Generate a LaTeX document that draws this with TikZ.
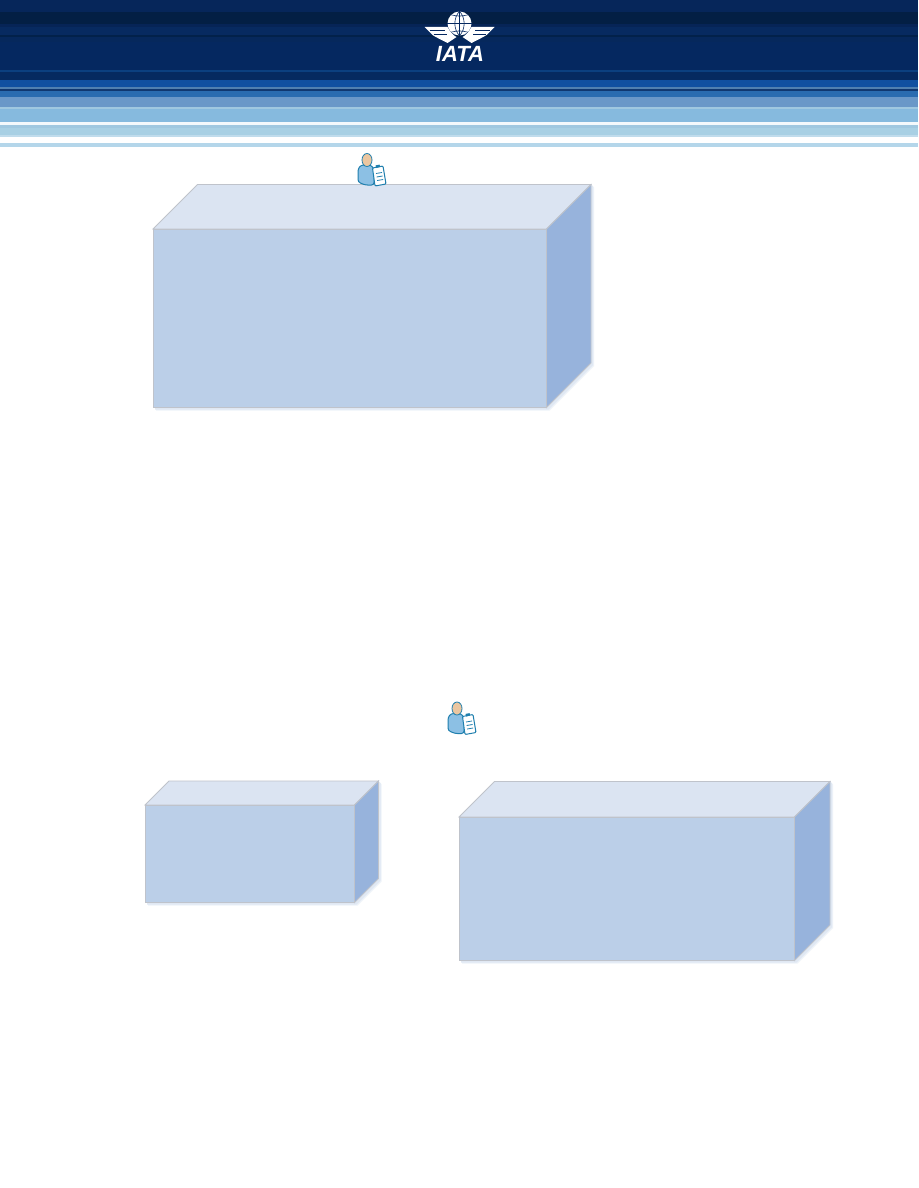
\documentclass[tikz,border=0pt]{standalone}
\usepackage{fontspec}
\setsansfont{Liberation Sans}
\usetikzlibrary{positioning,shapes.geometric}
\definecolor{boxfront}{HTML}{BBCFE8}
\definecolor{boxtop}{HTML}{DBE4F2}
\definecolor{boxside}{HTML}{97B3DC}
\definecolor{boxedge}{HTML}{BFC3CB}
\definecolor{iconline}{HTML}{1F7FAE}
\definecolor{iconbody}{HTML}{8CC0E4}
\definecolor{iconhead}{HTML}{EBC6A0}
\definecolor{logodark}{HTML}{052860}
% one box: x, y of the front corner, width, height, depth
\newcommand{\crate}[6]{%
  \foreach \off/\shade in {3/EEF3F9,2/E0E8F3}{
    \definecolor{shadowc}{HTML}{\shade}
    \fill[shadowc] (#1+\off,#2+#4) -- (#1+\off,#2+#4+\off) -- (#1+#3+\off,#2+#4+\off)
       -- (#1+#3+#5+\off,#2+#4-#5+\off) -- (#1+#3+#5+\off,#2-#5+\off) -- (#1+#3+#5,#2-#5) -- cycle;
  }
  \draw[boxedge,fill=boxtop] (#1,#2) -- ++(#5,-#5) -- ++(#3,0) -- ++(-#5,#5) -- cycle;
  \draw[boxedge,fill=boxside] (#1+#3,#2) -- ++(#5,-#5) -- ++(0,#4) -- ++(-#5,#5) -- cycle;
  \node[cratefront,minimum width=#3*1pt,minimum height=#4*1pt,anchor=north west] (#6) at (#1,#2) {};
}
% one wing: direction (1 left, -1 right)
\newcommand{\wing}[1]{%
  \begin{scope}[shift={(459.5,0)},xscale=#1]
    \fill[white] (-35,27) -- (-12,27) .. controls (-10,31) and (-7,35) .. (-3,37) -- (-12,43)
       .. controls (-18,40) and (-24,37) .. (-27,35) -- cycle;
    \draw[logodark,line width=.9pt] (-30,30.5) -- (-15,30.5) (-26,34) -- (-13,34);
  \end{scope}}
% reader icon
\newcommand{\reader}[3]{%
  \begin{scope}[shift={(#1,#2)}]
    \fill[iconbody,draw=iconline,line width=1pt,rounded corners=2.5pt] (-9,30) -- (-9,17) -- (-6,13) -- (4,13) -- (7,17) -- (7,33) -- (-2,33) -- cycle;
    \node[iconpart,fill=iconhead,ellipse,minimum width=10pt,minimum height=13pt] (#3h) at (0,8) {};
    \draw[iconline,fill=white,line width=1pt,rounded corners=1pt] (5.5,16) -- (16,14) -- (19,32) -- (8,34) -- cycle;
    \fill[iconline] (9,16) -- (13,15) -- (12.6,12.6) -- (8.6,13.4) -- cycle;
    \draw[iconline,line width=.8pt] (9,21.5) -- (15,20.5) (9.6,25) -- (15.6,24) (10.2,28.5) -- (16.2,27.5);
  \end{scope}}
\tikzset{
  cratefront/.style={draw=boxedge,fill=boxfront,inner sep=0pt,outer sep=0pt},
  iconpart/.style={draw=iconline,line width=.8pt,inner sep=0pt}
}
\begin{document}
\begin{tikzpicture}[x=1pt,y=-1pt,line width=.8pt]
  \useasboundingbox (0,0) rectangle (918,1188);
  \fill[white] (0,0) rectangle (918,1188);
  % banner, one band per line: top/bottom/colour
  \foreach \ya/\yb/\col in {0/12/06265A,12/24/031F44,24/27/062456,27/35/072A60,35/37/02214A,37/42/06285C,
     42/70/052860,70/72/0B4080,72/80/052A60,80/87/1050A0,87/89/5080B0,89/91/103870,
     91/97/2A6CB0,97/107/6A98C8,107/109/A0C8E0,109/122/86BADE,122/125/F4F9FC,125/128/A0C8E0,
     128/135/A8D0E4,135/137/C0DCEC,137/143/FFFFFF,143/147/B4D6EA}{
    \definecolor{bandc}{HTML}{\col}
    \fill[bandc] (0,\ya) rectangle (918,\yb);
  }
  % logo
  \node[circle,fill=white,minimum size=24pt,inner sep=0pt] (globe) at (459.5,23.5) {};
  \draw[logodark,line width=.6pt] (globe.north) -- (globe.south) (globe.west) -- (globe.east)
     (globe.north) to[bend left=40] (globe.south) (globe.north) to[bend right=40] (globe.south)
     (globe.north west) to[bend right=15] (globe.north east) (globe.south west) to[bend left=15] (globe.south east);
  \wing{1}
  \wing{-1}
  \node[font=\sffamily\bfseries\itshape,text=white,scale=2.2] (iata) at (460,53.5) {IATA};
  % boxes
  \crate{153}{229}{393.5}{178.5}{44.5}{upper}
  \crate{145}{805}{209.5}{97.5}{24}{lowerleft}
  \crate{459}{817}{335.5}{143.5}{35.5}{lowerright}
  % icons
  \reader{367}{152}{ra}
  \reader{457}{700.5}{rb}
\end{tikzpicture}
\end{document}
